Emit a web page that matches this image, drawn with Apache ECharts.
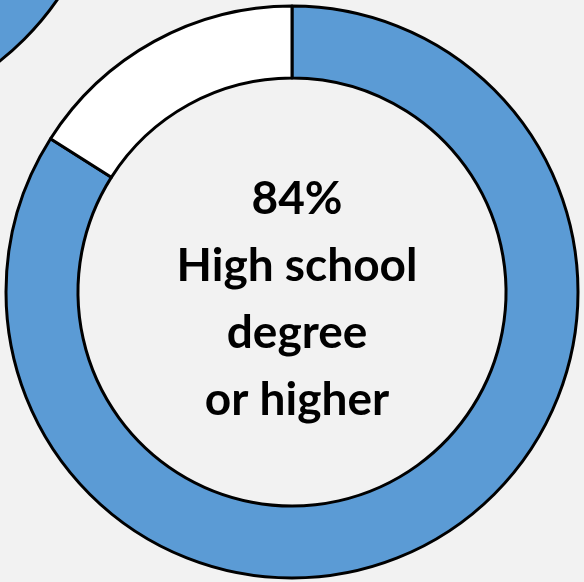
<!DOCTYPE html>
<html>
<head>
<meta charset="utf-8">
<style>
  html, body { margin: 0; padding: 0; background: #f2f2f2; }
  #chart { width: 584px; height: 582px; }
</style>
<script src="https://cdn.jsdelivr.net/npm/echarts@6/dist/echarts.min.js"></script>
</head>
<body>
<div id="chart"></div>
<script>
// Share of adults by educational attainment
const categories = ['High school degree or higher', 'Less than high school'];
const shareValues = [84, 16];
const sliceColors = ['#5b9bd5', '#ffffff'];
const centerLines = ['84%', 'High school', 'degree', 'or higher'];

// Neighbouring ring from the adjacent panel (only its blue part shows)
const neighbourValues = [100];

const chart = echarts.init(document.getElementById('chart'), null, { renderer: 'canvas' });

chart.setOption({
  backgroundColor: '#f2f2f2',
  animation: false,
  series: [
    {
      type: 'pie',
      center: [-178, -163],
      radius: [214, 286],
      silent: true,
      label: { show: false },
      labelLine: { show: false },
      itemStyle: { borderColor: '#000', borderWidth: 3 },
      data: neighbourValues.map(v => ({ value: v, itemStyle: { color: sliceColors[0] } }))
    },
    {
      type: 'pie',
      center: [292, 292],
      radius: [214, 286],
      startAngle: 90,
      clockwise: true,
      silent: true,
      label: { show: false },
      labelLine: { show: false },
      itemStyle: { borderColor: '#000', borderWidth: 3 },
      data: shareValues.map((v, i) => ({
        name: categories[i],
        value: v,
        itemStyle: { color: sliceColors[i] }
      }))
    }
  ],
  graphic: [
    {
      type: 'text',
      x: 297,
      y: 300,
      style: {
        text: centerLines.join('\n'),
        fill: '#000',
        font: 'bold 46px Lato, "Open Sans", sans-serif',
        lineHeight: 67,
        align: 'center',
        verticalAlign: 'middle'
      }
    }
  ]
});
</script>
</body>
</html>
